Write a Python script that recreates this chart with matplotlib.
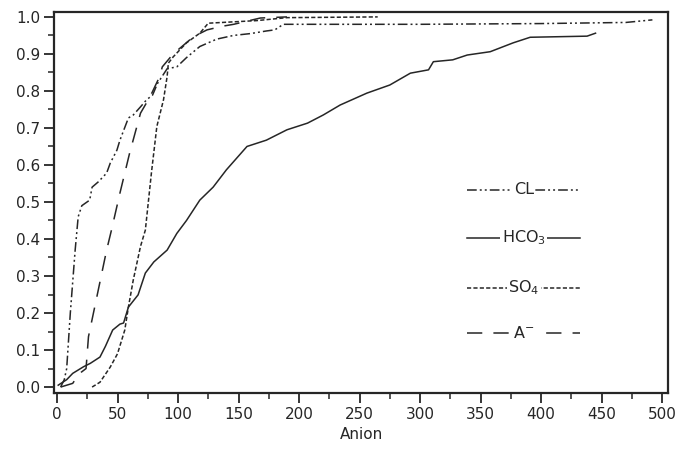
import matplotlib
matplotlib.use("Agg")
import matplotlib.pyplot as plt
from matplotlib.ticker import MultipleLocator

plt.rcParams['font.family'] = ['DejaVu Sans']
plt.rcParams['mathtext.default'] = 'regular'
plt.rcParams['lines.scale_dashes'] = False

# ---- data ----
cl_x = [3, 6, 8, 11, 15, 17.5, 20.5, 27, 29, 34, 41, 44, 49.5, 52, 59, 63, 69, 74, 79, 83,
        91, 99, 107, 118, 132, 146, 160, 173, 180, 187, 300, 400, 470, 492]
cl_y = [0.0, 0.02, 0.05, 0.2, 0.37, 0.46, 0.49, 0.505, 0.54, 0.554, 0.578, 0.605, 0.64, 0.667,
        0.727, 0.735, 0.757, 0.776, 0.789, 0.82, 0.86, 0.865, 0.89, 0.92, 0.94, 0.95, 0.955,
        0.962, 0.965, 0.98, 0.98, 0.982, 0.985, 0.992]

hco3_x = [1, 8, 13, 22, 27.5, 35.5, 40, 46, 52, 55, 59, 67, 73, 80, 91, 99, 107, 118, 129, 140,
          157, 173, 190, 207, 220, 234, 256, 275, 292, 307, 311, 327, 339, 358, 377, 391, 438, 445]
hco3_y = [0.005, 0.02, 0.037, 0.055, 0.064, 0.081, 0.11, 0.154, 0.17, 0.173, 0.216, 0.249, 0.308,
          0.338, 0.37, 0.415, 0.45, 0.505, 0.54, 0.587, 0.65, 0.667, 0.695, 0.713, 0.735, 0.762,
          0.794, 0.816, 0.848, 0.857, 0.879, 0.884, 0.897, 0.906, 0.93, 0.945, 0.948, 0.956]

so4_x = [29, 35.5, 44, 50, 56, 59, 63, 69, 73, 78, 82.5, 88, 91, 92, 96, 107, 118, 125, 165, 190, 265]
so4_y = [0.0, 0.013, 0.054, 0.09, 0.154, 0.216, 0.289, 0.38, 0.424, 0.578, 0.704, 0.776, 0.839,
         0.875, 0.892, 0.93, 0.956, 0.983, 0.99, 0.998, 1.0]

a_x = [3, 8, 13, 17, 20, 24, 26, 33, 41, 45, 52, 60, 69, 77, 85, 87, 96, 113, 124, 137, 146, 168, 190]
a_y = [0.0, 0.005, 0.01, 0.03, 0.04, 0.05, 0.136, 0.245, 0.37, 0.424, 0.524, 0.632, 0.74, 0.785,
       0.84, 0.865, 0.9, 0.947, 0.965, 0.975, 0.98, 0.997, 1.0]

labels = ['CL', 'HCO$_3$', 'SO$_4$', 'A$^{-}$']
x_label = 'Anion'

# ---- styles ----
col = '#262626'
lw = 1.1
styles = [(0, (7, 2.2, 1.4, 2.2, 1.4, 2.2)), '-', (0, (3, 1.6)), (0, (11, 8))]

fig = plt.figure(figsize=(6.79, 4.58), dpi=100)
ax = fig.add_axes([0.0795, 0.142, 0.9045, 0.832])

series = [(cl_x, cl_y), (hco3_x, hco3_y), (so4_x, so4_y), (a_x, a_y)]
for (xs, ys), ls in zip(series, styles):
    ax.plot(xs, ys, color=col, lw=lw, linestyle=ls)

ax.set_xlim(-2.5, 505)
ax.set_ylim(-0.016, 1.0135)
ax.xaxis.set_major_locator(MultipleLocator(50))
ax.xaxis.set_minor_locator(MultipleLocator(25))
ax.yaxis.set_major_locator(MultipleLocator(0.1))
ax.yaxis.set_minor_locator(MultipleLocator(0.05))
ax.yaxis.set_major_formatter(plt.FormatStrFormatter('%.1f'))
ax.tick_params(which='major', direction='out', length=7, width=1.3, labelsize=11, colors=col, pad=3)
ax.tick_params(which='minor', direction='out', length=4, width=1.1, colors=col)
for s in ax.spines.values():
    s.set_linewidth(1.6)
    s.set_color(col)
ax.set_xlabel(x_label, fontsize=11, color=col, labelpad=4)

# inline legend (line segments with centered labels)
leg_y = [0.533, 0.407, 0.276, 0.157]
for lab, ls, yy in zip(labels, styles, leg_y):
    ax.plot([0.673, 0.857], [yy, yy], transform=ax.transAxes, color=col, lw=lw, linestyle=ls)
    ax.text(0.765, yy, lab, transform=ax.transAxes, ha='center', va='center', fontsize=11.5,
            color=col, bbox=dict(facecolor='white', edgecolor='none', pad=1.0))

fig.savefig('out.png', dpi=100)
